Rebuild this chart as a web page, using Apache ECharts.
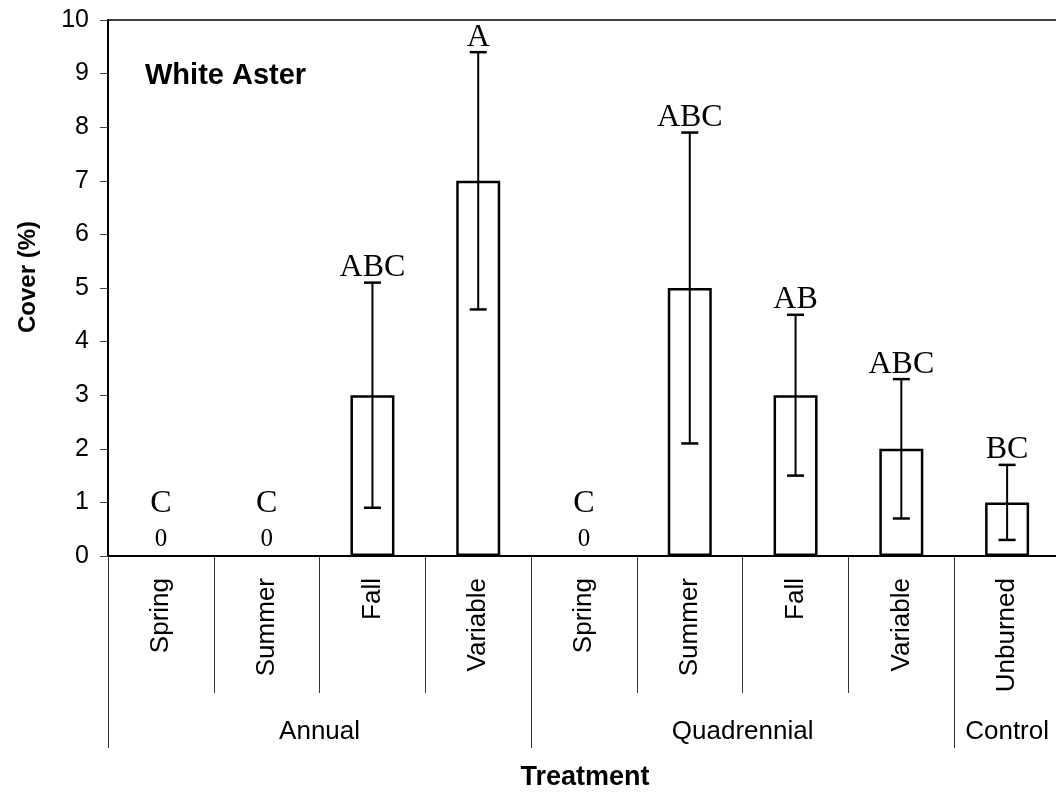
<!DOCTYPE html>
<html>
<head>
<meta charset="utf-8">
<title>White Aster</title>
<script src="https://cdn.jsdelivr.net/npm/echarts@6/dist/echarts.min.js"></script>
<style>
  html, body { margin: 0; padding: 0; background: #fff; }
  #main { width: 1056px; height: 794px; }
</style>
</head>
<body>
<div id="main"></div>
<script>
// data
var categories = ['Spring', 'Summer', 'Fall', 'Variable', 'Spring', 'Summer', 'Fall', 'Variable', 'Unburned'];
var cover = [0, 0, 3, 7, 0, 5, 3, 2, 1];
var errLow = [0, 0, 0.9, 4.6, 0, 2.1, 1.5, 0.7, 0.3];
var errHigh = [0, 0, 5.1, 9.4, 0, 7.9, 4.5, 3.3, 1.7];
var letters = ['C', 'C', 'ABC', 'A', 'C', 'ABC', 'AB', 'ABC', 'BC'];
var groupNames = ['Annual', 'Quadrennial', 'Control'];
var groupCenters = [2, 6, 8.5];
var groupEdges = [0, 4, 8];
var yTicks = [0, 1, 2, 3, 4, 5, 6, 7, 8, 9, 10];

var sans = '"Liberation Sans", Arial, sans-serif';
var serif = '"Liberation Serif", "Times New Roman", serif';

var chart = echarts.init(document.getElementById('main'));

// zero bars have no outline in the figure
var barData = cover.map(function (v) {
  return v === 0 ? { value: v, itemStyle: { borderWidth: 0 } } : v;
});

// error bar + letter data
var errData = [];
for (var i = 0; i < categories.length; i++) {
  errData.push([i, errLow[i], errHigh[i]]);
}

function renderErr(params, api) {
  var idx = api.value(0);
  var lo = api.coord([idx, api.value(1)]);
  var hi = api.coord([idx, api.value(2)]);
  var base = api.coord([idx, 0]);
  var x = hi[0];
  var cap = 8.5;
  var children = [];
  if (api.value(2) > 0) {
    var ls = { stroke: '#000', lineWidth: 2.5 };
    children.push({ type: 'line', shape: { x1: x, y1: lo[1], x2: x, y2: hi[1] }, style: { stroke: '#000', lineWidth: 2 } });
    children.push({ type: 'line', shape: { x1: x - cap, y1: hi[1], x2: x + cap, y2: hi[1] }, style: ls });
    children.push({ type: 'line', shape: { x1: x - cap, y1: lo[1], x2: x + cap, y2: lo[1] }, style: ls });
    children.push({
      type: 'text',
      style: { text: letters[idx], x: x, y: hi[1] - 15, align: 'center', verticalAlign: 'middle', font: '32px ' + serif, fill: '#000' }
    });
  } else {
    // zero bars: value label and letter
    children.push({
      type: 'text',
      style: { text: '0', x: x, y: base[1] - 17, align: 'center', verticalAlign: 'middle', font: '25px ' + serif, fill: '#000' }
    });
    children.push({
      type: 'text',
      style: { text: letters[idx], x: x, y: base[1] - 52, align: 'center', verticalAlign: 'middle', font: '32px ' + serif, fill: '#000' }
    });
  }
  return { type: 'group', children: children };
}

var option = {
  animation: false,
  backgroundColor: '#fff',
  grid: {
    left: 108,
    top: 20,
    width: 952,
    height: 536,
    show: true,
    borderColor: '#000',
    borderWidth: 1.5,
    outerBoundsMode: 'none'
  },
  xAxis: [{
    type: 'category',
    data: categories,
    position: 'bottom',
    axisLine: { lineStyle: { color: '#000', width: 2 } },
    axisTick: { show: true, alignWithLabel: false, interval: 0, length: 137, lineStyle: { color: '#333', width: 1 } },
    axisLabel: {
      interval: 0,
      rotate: 90,
      margin: 22,
      color: '#000',
      fontSize: 26,
      fontFamily: sans
    },
    splitLine: { show: false }
  }, {
    type: 'value',
    position: 'bottom',
    min: 0,
    max: 9,
    axisLine: { show: false },
    splitLine: { show: false },
    axisTick: { show: true, customValues: groupEdges, length: 192, lineStyle: { color: '#333', width: 1 } },
    axisLabel: {
      customValues: groupCenters,
      margin: 163,
      color: '#000',
      fontSize: 26,
      fontFamily: sans,
      formatter: function (v) {
        return groupNames[groupCenters.indexOf(v)];
      }
    }
  }],
  yAxis: {
    type: 'value',
    min: 0,
    max: 10,
    interval: 1,
    axisLine: { show: true, lineStyle: { color: '#000', width: 2 } },
    axisTick: { show: true, length: 8, lineStyle: { color: '#444' } },
    axisLabel: {
      margin: 19,
      color: '#000',
      fontSize: 25,
      fontFamily: sans,
      formatter: function (v) { return yTicks.indexOf(v) >= 0 ? String(v) : ''; }
    },
    splitLine: { show: false }
  },
  series: [{
    name: 'Cover',
    type: 'bar',
    data: barData,
    barWidth: 44,
    itemStyle: { color: '#fff', borderColor: '#000', borderWidth: 2.5 },
    z: 2
  }, {
    name: 'SE',
    type: 'custom',
    data: errData,
    renderItem: renderErr,
    encode: { x: 0, y: [1, 2] },
    z: 3
  }],
  graphic: [{
    type: 'text',
    left: 145,
    top: 61,
    style: { text: 'White Aster', font: 'bold 29px ' + sans, fill: '#000' }
  }, {
    type: 'text',
    x: 28,
    y: 277,
    rotation: Math.PI / 2,
    style: { text: 'Cover (%)', font: 'bold 24px ' + sans, fill: '#000', align: 'center', verticalAlign: 'middle' }
  }, {
    type: 'text',
    x: 585,
    y: 778,
    style: { text: 'Treatment', font: 'bold 27px ' + sans, fill: '#000', align: 'center', verticalAlign: 'middle' }
  }]
};

chart.setOption(option);
</script>
</body>
</html>
